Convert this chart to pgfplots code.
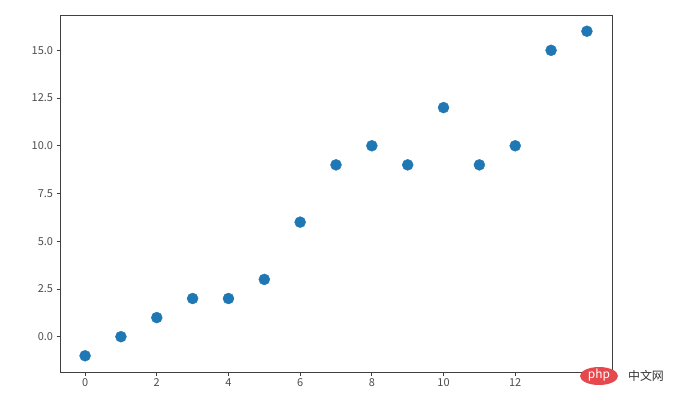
\documentclass[border=0pt]{standalone}
\usepackage{fontspec}
\setmainfont{Noto Sans CJK SC}
\usepackage{pgfplots}
\pgfplotsset{compat=1.18}
\definecolor{mplblue}{HTML}{1F77B4}
\definecolor{phpred}{HTML}{E5484D}
\begin{document}
\begin{tikzpicture}[x=1bp,y=1bp]
\path (0,0) rectangle (678,409);
\begin{axis}[
  at={(60bp,37bp)}, anchor=south west,
  scale only axis, width=552bp, height=357bp,
  xmin=-0.7, xmax=14.7, ymin=-1.85, ymax=16.85,
  xtick={0,2,...,12}, ytick={0,2.5,...,15},
  yticklabel style={/pgf/number format/.cd, fixed, fixed zerofill, precision=1},
  /pgf/number format/assume math mode=true,
  tick align=outside, tick pos=left,
  major tick length=3.5bp,
  axis line style={draw=black!75, line width=0.9pt},
  tick style={draw=black!75, line width=0.8pt},
  ticklabel style={font=\fontsize{11}{12}\selectfont, text=black!70},
]
\addplot[only marks, mark=*, mark size=5.5bp, mark options={draw=mplblue, fill=mplblue}] coordinates {
(0,-1) (1,0) (2,1) (3,2) (4,2) (5,3) (6,6) (7,9) (8,10) (9,9) (10,12) (11,9) (12,10) (13,15) (14,16)
};
\end{axis}
\fill[phpred] (599,33) ellipse (19 and 9);
\node[text=white, font=\fontsize{12}{12}\selectfont\itshape] at (599,34) {php};
\node[text=black!80, font=\fontsize{12}{12}\selectfont] at (646,33) {中文网};
\end{tikzpicture}
\end{document}
